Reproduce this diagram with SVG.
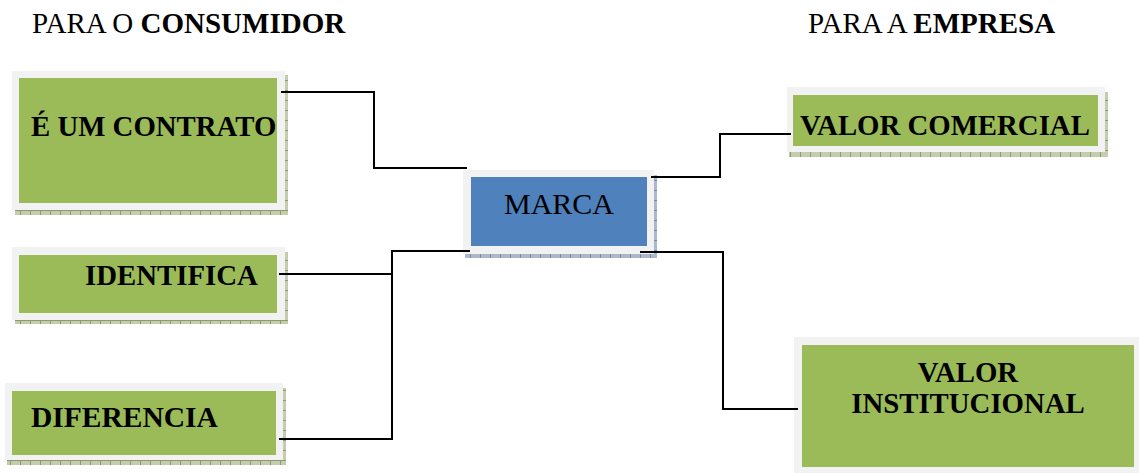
<svg xmlns="http://www.w3.org/2000/svg" width="1139" height="473" viewBox="0 0 1139 473">
  <defs>
    <pattern id="hatchG" patternUnits="userSpaceOnUse" width="10" height="10">
      <rect width="10" height="10" fill="#c3ccad"/>
      <rect x="0" y="0" width="1" height="10" fill="#8d9a72"/>
      <rect x="0" y="0" width="10" height="1" fill="#8d9a72"/>
    </pattern>
    <pattern id="hatchB" patternUnits="userSpaceOnUse" width="10" height="10">
      <rect width="10" height="10" fill="#aeb8cb"/>
      <rect x="0" y="0" width="1" height="10" fill="#7a89a6"/>
      <rect x="0" y="0" width="10" height="1" fill="#7a89a6"/>
    </pattern>
  </defs>
  <style>
    .frame { fill: #f2f2f2; }
    .green { fill: #9bbb59; }
    .blue { fill: #4f81bd; }
    .shG { fill: url(#hatchG); }
    .shB { fill: url(#hatchB); }
    .lbl { font-family: "Liberation Serif", "Times New Roman", serif; font-weight: bold; font-size: 28.8px; fill: #000; }
    .hdr { font-family: "Liberation Serif", "Times New Roman", serif; font-size: 29px; fill: #000; }
    .conn { fill: none; stroke: #000; stroke-width: 2; }
  </style>
  <rect width="1139" height="473" fill="#fff"/>

  <text class="hdr" x="32" y="33">PARA O <tspan font-weight="bold">CONSUMIDOR</tspan></text>
  <text class="hdr" x="808" y="33">PARA A <tspan font-weight="bold">EMPRESA</tspan></text>

  <g id="contrato">
    <rect class="shG" x="285" y="75" width="3" height="140"/>
    <rect class="shG" x="15" y="210" width="273" height="5"/>
    <rect class="frame" x="12" y="71" width="273" height="139"/>
    <rect class="green" x="19" y="78" width="258" height="125"/>
    <text class="lbl" x="31" y="136">É UM CONTRATO</text>
  </g>

  <g id="identifica">
    <rect class="shG" x="285" y="252" width="3" height="72"/>
    <rect class="shG" x="15" y="320" width="273" height="4"/>
    <rect class="frame" x="12" y="247" width="273" height="73"/>
    <rect class="green" x="19" y="255" width="258" height="58"/>
    <text class="lbl" x="85" y="285">IDENTIFICA</text>
  </g>

  <g id="diferencia">
    <rect class="shG" x="283" y="388" width="3" height="77"/>
    <rect class="shG" x="7" y="460" width="279" height="5"/>
    <rect class="frame" x="5" y="383" width="278" height="77"/>
    <rect class="green" x="12" y="391" width="264" height="64"/>
    <text class="lbl" x="31" y="427" style="font-size:29.5px">DIFERENCIA</text>
  </g>

  <g id="marca">
    <rect class="shB" x="654" y="175" width="3" height="83"/>
    <rect class="shB" x="465" y="254" width="192" height="4"/>
    <rect class="frame" x="463" y="170" width="191" height="84"/>
    <rect class="blue" x="471" y="177" width="176" height="69"/>
    <text x="559" y="214" text-anchor="middle" style="font-family:'Liberation Serif','Times New Roman',serif;font-size:30px;fill:#000">MARCA</text>
  </g>

  <g id="valor-comercial">
    <rect class="shG" x="1105" y="92" width="3" height="65"/>
    <rect class="shG" x="789" y="152" width="319" height="5"/>
    <rect class="frame" x="787" y="87" width="318" height="65"/>
    <rect class="green" x="793" y="95" width="305" height="51"/>
    <text class="lbl" x="800" y="135">VALOR COMERCIAL</text>
  </g>

  <g id="valor-institucional">
    <rect class="frame" x="794" y="337" width="345" height="136"/>
    <rect class="green" x="802" y="345" width="332" height="122"/>
    <text class="lbl" x="968" y="382" text-anchor="middle">VALOR</text>
    <text class="lbl" x="968" y="413" text-anchor="middle">INSTITUCIONAL</text>
  </g>

  <g id="connectors">
    <polyline class="conn" points="281,92 374,92 374,168 467,168"/>
    <polyline class="conn" points="279,274 392,274"/>
    <polyline class="conn" points="279,439 392,439 392,251 470,251"/>
    <polyline class="conn" points="651,177 720,177 720,134 791,134"/>
    <polyline class="conn" points="640,252 723,252 723,409 798,409"/>
  </g>
</svg>
